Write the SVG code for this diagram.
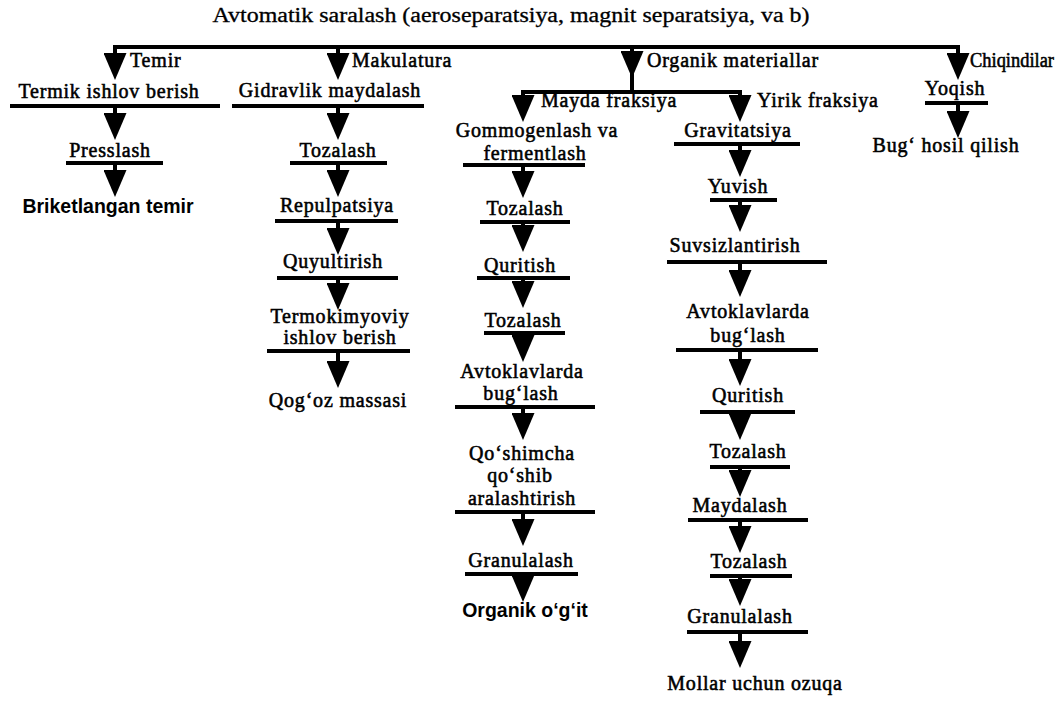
<svg xmlns="http://www.w3.org/2000/svg" width="1064" height="703" viewBox="0 0 1064 703">
<style>
text{font-family:"Liberation Serif","Times New Roman",serif;font-weight:normal;font-size:20px;letter-spacing:0.8px;fill:#000;stroke:#000;stroke-width:0.55px}
.m{text-anchor:middle}
.s{font-family:"Liberation Sans",Arial,sans-serif;font-weight:bold;font-size:19.5px;letter-spacing:0;stroke:none}
.ul{stroke:#000;stroke-width:4;fill:none}
.c{stroke:#000;stroke-width:4;fill:none;marker-end:url(#ah)}
.b{stroke:#000;stroke-width:4;fill:none}
</style>
<defs>
<marker id="ah" markerUnits="userSpaceOnUse" viewBox="0 0 27 23" markerWidth="27" markerHeight="23" refX="15" refY="11.5" orient="auto">
<path d="M0,0 L27,11.5 L0,23 Z" fill="#000"/>
</marker>
</defs>
<rect width="1064" height="703" fill="#fff"/>
<g id="title"><text x="511" y="22" class="m" style="letter-spacing:0;stroke-width:0.3px" textLength="597" lengthAdjust="spacingAndGlyphs">Avtomatik saralash (aeroseparatsiya, magnit separatsiya, va b)</text></g>

<g id="connectors">
<path class="b" d="M115,68 V47 H958 V68"/>
<path class="c" d="M115,47 V68"/>
<path class="c" d="M338,47 V68"/>
<path class="c" d="M632,47 V66"/>
<path class="c" d="M958,47 V68"/>
<path class="b" d="M632,60 V92"/>
<path class="b" d="M523,110 V92 H740 V110"/>
<path class="c" d="M523,92 V110"/>
<path class="c" d="M740,92 V110"/>
<path class="c" d="M115,106 V128"/>
<path class="c" d="M115,163 V185"/>
<path class="c" d="M338,106 V128"/>
<path class="c" d="M338,163 V185"/>
<path class="c" d="M338,221 V243"/>
<path class="c" d="M338,278 V298"/>
<path class="c" d="M338,351 V376"/>
<path class="c" d="M523,165 V186"/>
<path class="c" d="M523,222 V240"/>
<path class="c" d="M523,278 V296"/>
<path class="c" d="M523,333 V350"/>
<path class="c" d="M523,407 V428"/>
<path class="c" d="M523,512 V534"/>
<path class="c" d="M523,574 V590"/>
<path class="c" d="M740,144 V165"/>
<path class="c" d="M740,200 V220"/>
<path class="c" d="M740,262 V285"/>
<path class="c" d="M740,350 V374"/>
<path class="c" d="M740,412 V428"/>
<path class="c" d="M740,467 V485"/>
<path class="c" d="M740,520 V541"/>
<path class="c" d="M740,576 V594"/>
<path class="c" d="M740,632 V656"/>
<path class="c" d="M958,103 V126"/>
</g>

<g id="branch-labels">
<text x="130" y="67">Temir</text>
<text x="352" y="67">Makulatura</text>
<text x="647" y="67">Organik materiallar</text>
<text x="970" y="67" style="letter-spacing:0" textLength="84" lengthAdjust="spacingAndGlyphs">Chiqindilar</text>
<text x="541" y="107">Mayda fraksiya</text>
<text x="757" y="107">Yirik fraksiya</text>
</g>

<g id="n-termik"><text x="109" y="98" class="m">Termik ishlov berish</text><line class="ul" x1="10" y1="106" x2="220" y2="106"/></g>
<g id="n-presslash"><text x="110" y="157" class="m">Presslash</text><line class="ul" x1="66" y1="163" x2="163" y2="163"/></g>
<g id="n-briket"><text x="108" y="213" class="m s">Briketlangan  temir</text></g>

<g id="n-gidravlik"><text x="330" y="97" class="m">Gidravlik maydalash</text><line class="ul" x1="232" y1="106" x2="424" y2="106"/></g>
<g id="n-tozalash1"><text x="338" y="157" class="m">Tozalash</text><line class="ul" x1="290" y1="163" x2="387" y2="163"/></g>
<g id="n-repulp"><text x="337" y="212" class="m">Repulpatsiya</text><line class="ul" x1="275" y1="221" x2="398" y2="221"/></g>
<g id="n-quyul"><text x="333" y="268" class="m">Quyultirish</text><line class="ul" x1="277" y1="278" x2="398" y2="278"/></g>
<g id="n-termokim"><text x="340" y="323" class="m">Termokimyoviy</text><text x="340" y="344" class="m">ishlov berish</text><line class="ul" x1="267" y1="351" x2="410" y2="351"/></g>
<g id="n-qogoz"><text x="338" y="407" class="m">Qog‘oz massasi</text></g>

<g id="n-gomogen"><text x="537" y="137" class="m">Gommogenlash va</text><text x="535" y="160" class="m">fermentlash</text><line class="ul" x1="463" y1="165" x2="585" y2="165"/></g>
<g id="n-tozalash2"><text x="525" y="215" class="m">Tozalash</text><line class="ul" x1="480" y1="222" x2="570" y2="222"/></g>
<g id="n-quritish1"><text x="520" y="272" class="m">Quritish</text><line class="ul" x1="477" y1="278" x2="570" y2="278"/></g>
<g id="n-tozalash3"><text x="523" y="327" class="m">Tozalash</text><line class="ul" x1="484" y1="333" x2="565" y2="333"/></g>
<g id="n-avtoklav1"><text x="522" y="378" class="m">Avtoklavlarda</text><text x="521" y="400" class="m">bug‘lash</text><line class="ul" x1="455" y1="407" x2="595" y2="407"/></g>
<g id="n-qoshimcha"><text x="522" y="460" class="m">Qo‘shimcha</text><text x="520" y="482" class="m">qo‘shib</text><text x="522" y="505" class="m">aralashtirish</text><line class="ul" x1="455" y1="512" x2="595" y2="512"/></g>
<g id="n-granul1"><text x="521" y="567" class="m">Granulalash</text><line class="ul" x1="465" y1="574" x2="578" y2="574"/></g>
<g id="n-ogit"><text x="525" y="617" class="m s">Organik o‘g‘it</text></g>

<g id="n-gravit"><text x="738" y="137" class="m">Gravitatsiya</text><line class="ul" x1="674" y1="144" x2="800" y2="144"/></g>
<g id="n-yuvish"><text x="738" y="193" class="m">Yuvish</text><line class="ul" x1="710" y1="200" x2="777" y2="200"/></g>
<g id="n-suvsiz"><text x="735" y="252" class="m">Suvsizlantirish</text><line class="ul" x1="667" y1="262" x2="827" y2="262"/></g>
<g id="n-avtoklav2"><text x="748" y="318" class="m">Avtoklavlarda</text><text x="748" y="342" class="m">bug‘lash</text><line class="ul" x1="676" y1="350" x2="818" y2="350"/></g>
<g id="n-quritish2"><text x="748" y="402" class="m">Quritish</text><line class="ul" x1="700" y1="412" x2="795" y2="412"/></g>
<g id="n-tozalash4"><text x="748" y="458" class="m">Tozalash</text><line class="ul" x1="710" y1="467" x2="790" y2="467"/></g>
<g id="n-maydalash"><text x="740" y="512" class="m">Maydalash</text><line class="ul" x1="688" y1="520" x2="808" y2="520"/></g>
<g id="n-tozalash5"><text x="749" y="568" class="m">Tozalash</text><line class="ul" x1="710" y1="576" x2="792" y2="576"/></g>
<g id="n-granul2"><text x="740" y="623" class="m">Granulalash</text><line class="ul" x1="687" y1="632" x2="808" y2="632"/></g>
<g id="n-mollar"><text x="755" y="690" class="m">Mollar uchun  ozuqa</text></g>

<g id="n-yoqish"><text x="955" y="95" class="m">Yoqish</text><line class="ul" x1="925" y1="103" x2="988" y2="103"/></g>
<g id="n-bug"><text x="946" y="152" class="m">Bug‘ hosil qilish</text></g>
</svg>
